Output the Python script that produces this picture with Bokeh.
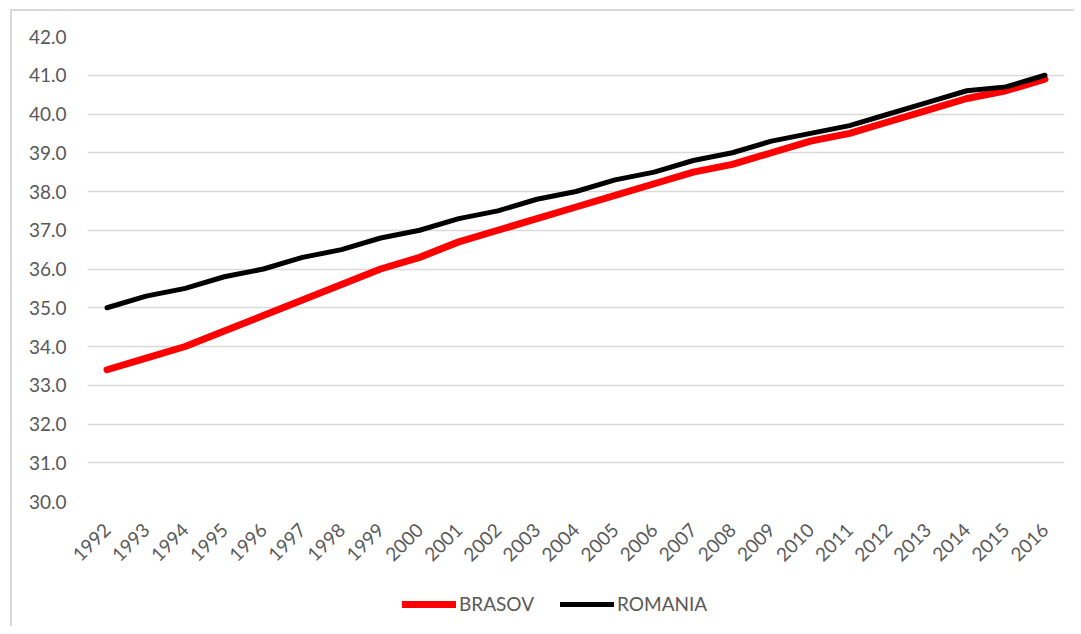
from bokeh.plotting import figure
from bokeh.layouts import column
from bokeh.models import FactorRange, FixedTicker, NumeralTickFormatter, Legend, LegendItem, Range1d
from bokeh.embed import file_html
from bokeh.resources import INLINE
import math

years = [str(y) for y in range(1992, 2017)]
brasov = [33.4, 33.7, 34.0, 34.4, 34.8, 35.2, 35.6, 36.0, 36.3, 36.7, 37.0, 37.3, 37.6,
          37.9, 38.2, 38.5, 38.7, 39.0, 39.3, 39.5, 39.8, 40.1, 40.4, 40.6, 40.9]
romania = [35.0, 35.3, 35.5, 35.8, 36.0, 36.3, 36.5, 36.8, 37.0, 37.3, 37.5, 37.8, 38.0,
           38.3, 38.5, 38.8, 39.0, 39.3, 39.5, 39.7, 40.0, 40.3, 40.6, 40.7, 41.0]
y_ticks = [30, 31, 32, 33, 34, 35, 36, 37, 38, 39, 40, 41, 42]

FONT = "Lato"
TXT = "#595959"
RED = "#ff0000"
BLACK = "#000000"

p = figure(width=1062, height=575, x_range=FactorRange(factors=years, range_padding=0),
           y_range=Range1d(30, 42), output_backend="svg", toolbar_location=None,
           min_border_left=75, min_border_top=25, min_border_right=10, min_border_bottom=85)
p.outline_line_color = None
p.background_fill_color = "white"
p.border_fill_color = "white"

p.line(years, brasov, line_color=RED, line_width=7, line_cap="round", line_join="round")
p.line(years, romania, line_color=BLACK, line_width=5, line_cap="round", line_join="round")

p.xgrid.grid_line_color = None
p.ygrid.grid_line_color = "#d9d9d9"
p.ygrid.grid_line_width = 1.5
p.yaxis.ticker = FixedTicker(ticks=y_ticks)
p.yaxis.formatter = NumeralTickFormatter(format="0.0")
for ax in (p.xaxis[0], p.yaxis[0]):
    ax.axis_line_color = None
    ax.major_tick_line_color = None
    ax.minor_tick_line_color = None
    ax.major_tick_out = 0
    ax.major_tick_in = 0
    ax.major_label_text_font = FONT
    ax.major_label_text_font_size = "19px"
    ax.major_label_text_color = TXT
p.yaxis.major_label_standoff = 21
p.xaxis.major_label_orientation = math.pi / 4
p.xaxis.major_label_standoff = 25

# legend strip below the chart (its lines lie outside its visible range)
leg = figure(width=1062, height=40, x_range=FactorRange(factors=years, range_padding=0),
             y_range=Range1d(0, 1), output_backend="svg", toolbar_location=None,
             x_axis_location=None, y_axis_location=None,
             min_border_left=0, min_border_right=0, min_border_top=0, min_border_bottom=0)
leg.outline_line_color = None
leg.grid.grid_line_color = None
lr1 = leg.line(years, brasov, line_color=RED, line_width=7, line_cap="round")
lr2 = leg.line(years, romania, line_color=BLACK, line_width=5, line_cap="round")
legend = Legend(items=[LegendItem(label="BRASOV", renderers=[lr1]),
                       LegendItem(label="ROMANIA", renderers=[lr2])],
                orientation="horizontal", location=(315, 11),
                glyph_width=54, glyph_height=20, label_standoff=3, spacing=26,
                padding=0, margin=0, border_line_color=None, background_fill_alpha=0,
                label_text_font=FONT, label_text_font_size="19px", label_text_color=TXT)
leg.add_layout(legend, "center")

layout = column(p, leg, spacing=0)
layout.styles = {"border-top": "2px solid #d9d9d9", "border-left": "2px solid #d9d9d9",
                 "margin-left": "10px", "margin-top": "9px"}

open("out.html", "w").write(file_html(layout, INLINE))
